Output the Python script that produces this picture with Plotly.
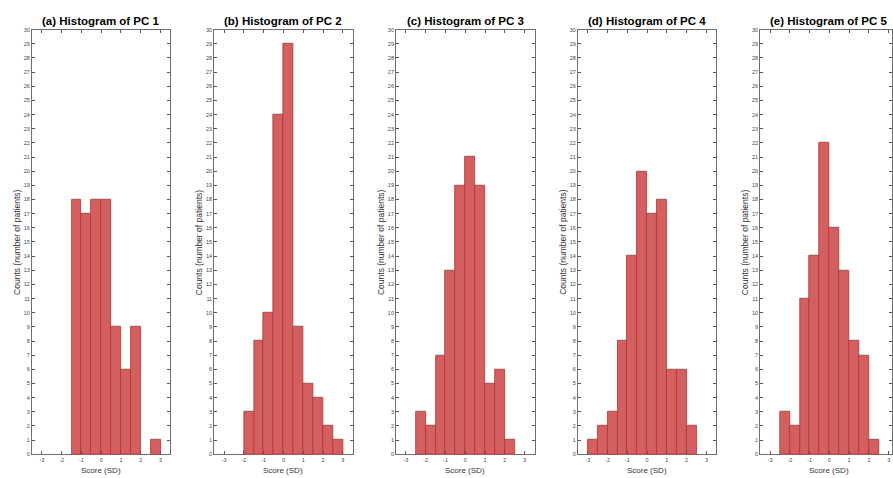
import plotly.graph_objects as go

# ---- data ----
bin_centers = [-2.75, -2.25, -1.75, -1.25, -0.75, -0.25, 0.25, 0.75, 1.25, 1.75, 2.25, 2.75]
bin_width = 0.5
pc1_counts = [0, 0, 0, 18, 17, 18, 18, 9, 6, 9, 0, 1]
pc2_counts = [0, 0, 3, 8, 10, 24, 29, 9, 5, 4, 2, 1]
pc3_counts = [0, 3, 2, 7, 13, 19, 21, 19, 5, 6, 1, 0]
pc4_counts = [1, 2, 3, 8, 14, 20, 17, 18, 6, 6, 2, 0]
pc5_counts = [0, 3, 2, 11, 14, 22, 16, 13, 8, 7, 1, 0]
panel_titles = ["(a) Histogram of PC 1", "(b) Histogram of PC 2", "(c) Histogram of PC 3",
                "(d) Histogram of PC 4", "(e) Histogram of PC 5"]
x_ticks = [-3, -2, -1, 0, 1, 2, 3]
y_ticks = list(range(0, 31))
x_label = "Score (SD)"
y_label = "Counts (number of patients)"

all_counts = [pc1_counts, pc2_counts, pc3_counts, pc4_counts, pc5_counts]

# ---- layout geometry (pixels) ----
W, H = 893, 478
lefts = [32, 214.5, 396.5, 578.5, 761]
px_per_unit = 19.8
x_lo, x_hi = -3.5, 3.5
ax_w = (x_hi - x_lo) * px_per_unit
top_px, bot_px = 27, 457

fig = go.Figure()
annotations = []
font_fam = "Liberation Sans, Arial, Helvetica, sans-serif"

for i, counts in enumerate(all_counts):
    xs = [c for c, n in zip(bin_centers, counts) if n > 0]
    ys = [n for n in counts if n > 0]
    xa = "x" if i == 0 else f"x{i+1}"
    ya = "y" if i == 0 else f"y{i+1}"
    fig.add_trace(go.Bar(
        x=xs, y=ys, width=bin_width, xaxis=xa, yaxis=ya,
        marker=dict(color="rgb(210,96,96)", line=dict(color="rgb(190,45,45)", width=0.8)),
        showlegend=False, hoverinfo="x+y",
    ))
    left = lefts[i]
    right = left + ax_w
    if right <= W:
        dom = [left / W, right / W]
        rng = [x_lo, x_hi]
    else:
        dom = [left / W, 1.0]
        rng = [x_lo, x_lo + (W - left) / px_per_unit]
    axis_common = dict(
        showgrid=False, zeroline=False, showline=True, linecolor="#6e6e6e", linewidth=1,
        mirror="ticks", ticks="inside", ticklen=3, tickwidth=0.8, tickcolor="#555",
        tickfont=dict(size=5.5, color="#444", family=font_fam),
    )
    xkey = "xaxis" if i == 0 else f"xaxis{i+1}"
    ykey = "yaxis" if i == 0 else f"yaxis{i+1}"
    fig.update_layout(**{
        xkey: dict(domain=dom, range=rng, anchor=ya, tickmode="array", tickvals=x_ticks,
                   ticktext=[str(t) for t in x_ticks], **axis_common),
        ykey: dict(domain=[(H - bot_px) / H, (H - top_px) / H], range=[0, 30], anchor=xa,
                   tickmode="array", tickvals=y_ticks, ticktext=[str(t) for t in y_ticks],
                   **axis_common),
    })
    cx = (left + left + ax_w) / 2
    annotations.append(dict(
        text="<b>" + panel_titles[i] + "</b>", x=cx / W, y=1 - 18 / H, xref="paper", yref="paper",
        xanchor="center", yanchor="middle", showarrow=False,
        font=dict(size=11.5, color="black", family=font_fam),
    ))
    annotations.append(dict(
        text=x_label, x=cx / W, y=1 - 473 / H, xref="paper", yref="paper",
        xanchor="center", yanchor="middle", showarrow=False,
        font=dict(size=8, color="#333", family=font_fam),
    ))
    annotations.append(dict(
        text=y_label, x=(left - 15) / W, y=1 - 242 / H, xref="paper", yref="paper",
        xanchor="center", yanchor="middle", showarrow=False, textangle=-90,
        font=dict(size=8.5, color="#333", family=font_fam),
    ))

fig.update_layout(
    width=W, height=H, margin=dict(l=0, r=0, t=0, b=0),
    paper_bgcolor="white", plot_bgcolor="white", bargap=0,
    annotations=annotations,
)

fig.write_html("out.html")
